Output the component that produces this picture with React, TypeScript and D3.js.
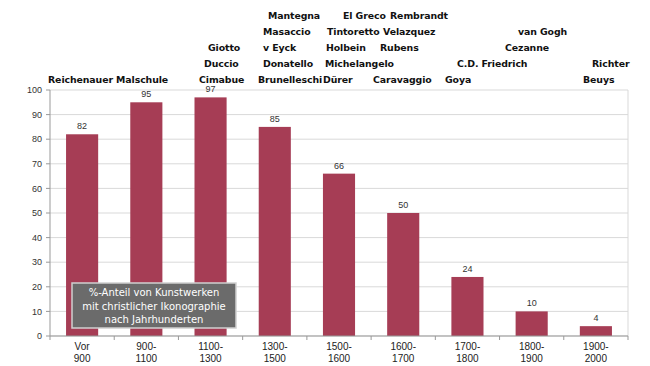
import * as d3 from "d3";

const periods = ["Vor|900", "900-|1100", "1100-|1300", "1300-|1500", "1500-|1600", "1600-|1700", "1700-|1800", "1800-|1900", "1900-|2000"];
const shares = [82, 95, 97, 85, 66, 50, 24, 10, 4];
const yTicks = [0, 10, 20, 30, 40, 50, 60, 70, 80, 90, 100];
const artists = [
  "Reichenauer Malschule",
  "Giotto", "Duccio", "Cimabue",
  "Mantegna", "Masaccio", "v Eyck", "Donatello", "Brunelleschi",
  "El Greco", "Rembrandt", "Tintoretto", "Velazquez", "Holbein", "Rubens", "Michelangelo", "Dürer", "Caravaggio", "Goya",
  "van Gogh", "Cezanne", "C.D. Friedrich",
  "Richter", "Beuys",
];
const captionLines = ["%-Anteil von Kunstwerken", "mit christlicher Ikonographie", "nach Jahrhunderten"];

// label placement (x = left edge, row = line from top)
const artistPos: [number, number][] = [
  [48, 4],
  [208, 2], [204, 3], [199, 4],
  [268, 0], [263, 1], [263, 2], [263, 3], [258, 4],
  [343, 0], [390, 0], [327, 1], [383, 1], [326, 2], [380, 2], [325, 3], [323, 4], [373, 4], [445, 4],
  [518, 1], [505, 2], [457, 3],
  [592, 3], [583, 4],
];

const W = 650;
const H = 366;
const margin = { top: 90, right: 22, bottom: 30, left: 50 };
const barColor = "#a63d55";

export default function App() {
  const x = d3.scaleBand<number>()
    .domain(d3.range(periods.length))
    .range([margin.left, W - margin.right])
    .paddingInner(0.5)
    .paddingOuter(0.25);
  const y = d3.scaleLinear().domain([0, 100]).range([H - margin.bottom, margin.top]);
  const step = x.step();
  const x0 = margin.left;
  const x1 = W - margin.right;
  const yBase = y(0);

  return (
    <svg width={W} height={H} style={{ position: "absolute", left: 0, top: 0, background: "#fff" }}>
      <g>
        {yTicks.map((t) => (
          <g key={t}>
            <line x1={x0} x2={x1} y1={y(t)} y2={y(t)} stroke="#d9d9d9" strokeWidth={1} />
            <line x1={x0 - 4} x2={x0} y1={y(t)} y2={y(t)} stroke="#999" />
            <text x={x0 - 8} y={y(t)} dy="0.35em" textAnchor="end" fontFamily="Liberation Sans, Arial" fontSize={9} fill="#333">
              {t}
            </text>
          </g>
        ))}
        <line x1={x1} x2={x1} y1={y(100)} y2={yBase} stroke="#d9d9d9" />
      </g>
      {shares.map((v, i) => (
        <g key={i}>
          <rect x={x(i)} y={y(v)} width={x.bandwidth()} height={yBase - y(v)} fill={barColor} />
          <text x={(x(i) ?? 0) + x.bandwidth() / 2} y={y(v) - 5} textAnchor="middle" fontFamily="Liberation Sans, Arial" fontSize={9} fill="#333">
            {v}
          </text>
        </g>
      ))}
      <line x1={x0} x2={x0} y1={y(100)} y2={yBase} stroke="#999" />
      <line x1={x0} x2={x1} y1={yBase} y2={yBase} stroke="#999" />
      {d3.range(periods.length + 1).map((i) => (
        <line key={i} x1={x0 + i * step} x2={x0 + i * step} y1={yBase} y2={yBase + 4} stroke="#999" />
      ))}
      {periods.map((p, i) => {
        const cx = (x(i) ?? 0) + x.bandwidth() / 2;
        return (
          <text key={p} textAnchor="middle" fontFamily="Liberation Sans, Arial" fontSize={10} fill="#222">
            {p.split("|").map((s, k) => (
              <tspan key={k} x={cx} y={yBase + 14 + k * 12}>{s}</tspan>
            ))}
          </text>
        );
      })}
      {artists.map((a, i) => (
        <text key={a} x={artistPos[i][0]} y={19 + artistPos[i][1] * 16} fontFamily="DejaVu Sans" fontWeight="bold" fontSize={9.4} letterSpacing={-0.1} fill="#111">
          {a}
        </text>
      ))}
      <g>
        <rect x={72} y={283} width={164} height={45} fill="#6b6b6b" stroke="#cfcfcf" strokeWidth={1.5} />
        {captionLines.map((c, k) => (
          <text key={c} x={154} y={296 + k * 13.5} textAnchor="middle" fontFamily="DejaVu Sans" fontSize={10} fill="#fff">
            {c}
          </text>
        ))}
      </g>
    </svg>
  );
}
